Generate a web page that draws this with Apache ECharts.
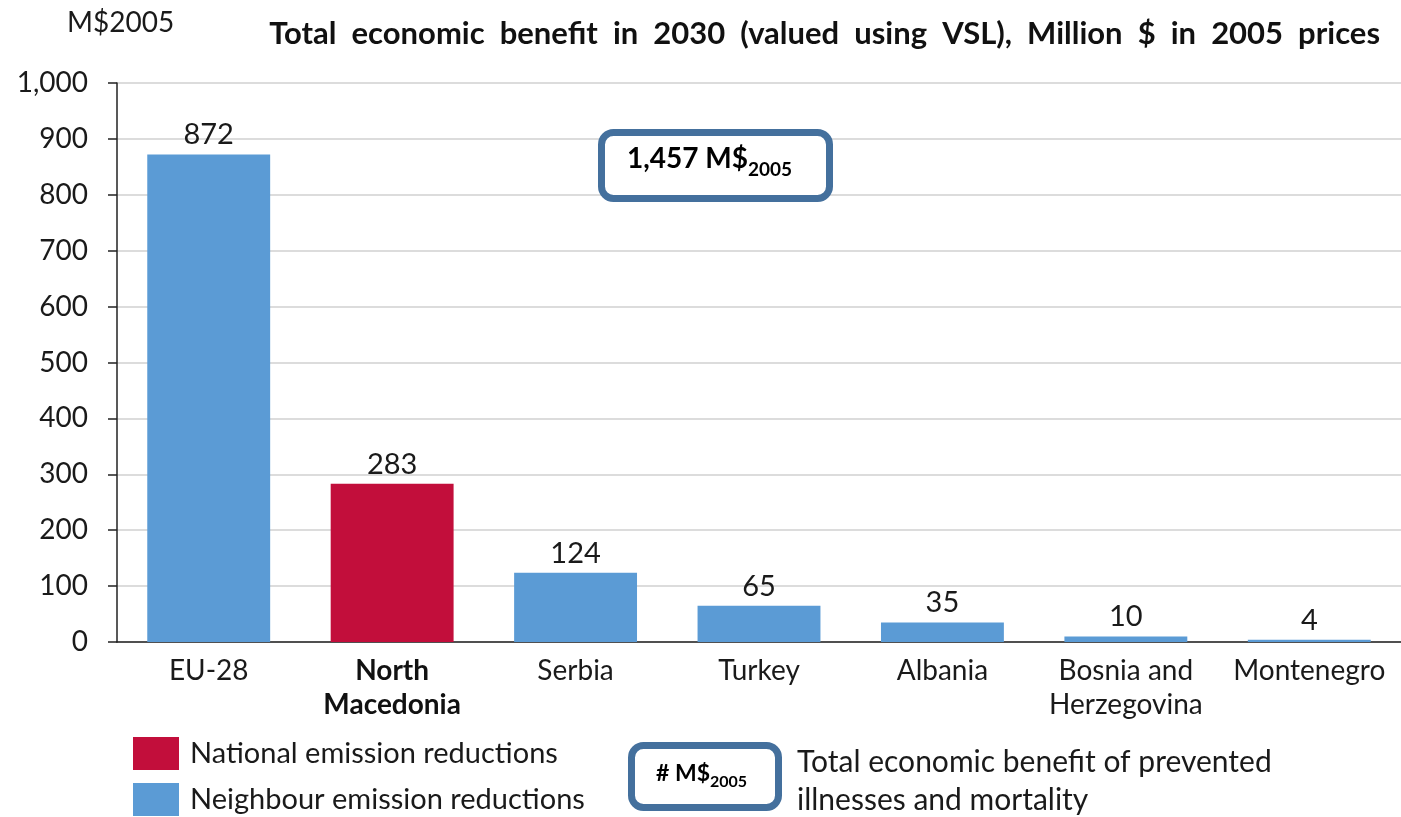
<!DOCTYPE html>
<html>
<head>
<meta charset="utf-8">
<script src="https://cdn.jsdelivr.net/npm/echarts@6/dist/echarts.min.js"></script>
<style>
  html, body { margin: 0; padding: 0; background: #fff; }
  #chart { width: 1401px; height: 817px; }
</style>
</head>
<body>
<div id="chart"></div>
<script>
// Economic benefit in 2030 by source region of emission reductions (M$, 2005 prices)
const categories = ['EU-28', 'North\nMacedonia', 'Serbia', 'Turkey', 'Albania', 'Bosnia and\nHerzegovina', 'Montenegro'];
const nationalValues  = ['-', 283, '-', '-', '-', '-', '-'];
const neighbourValues = [872, '-', 124, 65, 35, 10, 4];
const yTicks = [0, 100, 200, 300, 400, 500, 600, 700, 800, 900, 1000];
const nationalCategory = 'North\nMacedonia';
const totalBenefit = '1,457';

const FONT = 'Lato, "Open Sans", sans-serif';
const BLUE = '#5B9BD5';
const RED = '#C20E3B';
const BOX = '#44709D';
const INK = '#1a1a1a';

const chart = echarts.init(document.getElementById('chart'), null, { renderer: 'canvas' });

const labelStyle = {
  show: true,
  position: 'top',
  distance: 5,
  fontFamily: FONT,
  fontSize: 29,
  color: INK,
  formatter: p => p.value
};

chart.setOption({
  animation: false,
  backgroundColor: '#fff',
  title: [
    {
      text: 'Total  economic  benefit  in  2030  (valued  using  VSL),  Million  $  in  2005  prices',
      right: 16, top: 13,
      textStyle: { fontFamily: FONT, fontSize: 31, fontWeight: 'bold', color: '#111' }
    },
    {
      text: 'M$2005',
      left: 62, top: 4,
      textStyle: { fontFamily: FONT, fontSize: 28, fontWeight: 'normal', color: INK }
    }
  ],
  legend: {
    left: 133, top: 737,
    orient: 'vertical',
    padding: 0,
    itemWidth: 46, itemHeight: 33, itemGap: 13,
    icon: 'rect',
    selectedMode: false,
    textStyle: { fontFamily: FONT, fontSize: 29, color: INK, padding: [0, 0, 0, 6] },
    data: ['National emission reductions', 'Neighbour emission reductions']
  },
  // the plot area runs slightly past the right edge of the canvas
  grid: { left: 117, right: -4, top: 83, bottom: 175, containLabel: false },
  xAxis: {
    type: 'category',
    data: categories,
    axisLine: { show: true, lineStyle: { color: '#222', width: 1.5 } },
    axisTick: { show: false },
    axisLabel: {
      margin: 12,
      interval: 0,
      fontFamily: FONT, fontSize: 28, color: INK, lineHeight: 34,
      formatter: v => v === nationalCategory
        ? v.split('\n').map(l => '{bold|' + l + '}').join('\n')
        : v,
      rich: { bold: { fontFamily: FONT, fontSize: 28, fontWeight: 'bold', color: '#111', lineHeight: 34 } }
    }
  },
  yAxis: {
    type: 'value',
    min: yTicks[0], max: yTicks[yTicks.length - 1], interval: 100,
    axisLine: { show: true, lineStyle: { color: '#222', width: 1.5 } },
    axisTick: { show: true, length: 9, lineStyle: { color: '#222', width: 1.5 } },
    splitLine: { show: true, lineStyle: { color: '#D0D0D0', width: 1.5 } },
    axisLabel: {
      margin: 29,
      fontFamily: FONT, fontSize: 28, color: INK,
      formatter: v => v.toLocaleString('en-US')
    }
  },
  series: [
    {
      name: 'National emission reductions',
      type: 'bar', stack: 'benefit',
      barWidth: '67%',
      data: nationalValues,
      itemStyle: { color: RED },
      label: labelStyle
    },
    {
      name: 'Neighbour emission reductions',
      type: 'bar', stack: 'benefit',
      barWidth: '67%',
      data: neighbourValues,
      itemStyle: { color: BLUE },
      label: labelStyle
    }
  ],
  graphic: [
    // total benefit callout
    {
      type: 'rect', left: 598, top: 129,
      shape: { width: 228, height: 66, r: 12 },
      style: { fill: '#fff', stroke: BOX, lineWidth: 7 },
      z: 10
    },
    {
      type: 'text', left: 627, top: 145,
      style: {
        text: '{b|' + totalBenefit + ' M$}{s|2005}',
        rich: {
          b: { fontFamily: FONT, fontSize: 28, fontWeight: 'bold', color: '#111', lineHeight: 34, verticalAlign: 'bottom' },
          s: { fontFamily: FONT, fontSize: 19, fontWeight: 'bold', color: '#111', lineHeight: 34, verticalAlign: 'bottom', padding: [0, 0, -6, 0] }
        }
      },
      z: 11
    },
    // legend callout
    {
      type: 'rect', left: 628, top: 742,
      shape: { width: 147, height: 62, r: 12 },
      style: { fill: '#fff', stroke: BOX, lineWidth: 7 },
      z: 10
    },
    {
      type: 'text', left: 656, top: 762,
      style: {
        text: '{b|# M$}{s|2005}',
        rich: {
          b: { fontFamily: FONT, fontSize: 23, fontWeight: 'bold', color: '#111', lineHeight: 28, verticalAlign: 'bottom' },
          s: { fontFamily: FONT, fontSize: 16, fontWeight: 'bold', color: '#111', lineHeight: 28, verticalAlign: 'bottom', padding: [0, 0, -5, 0] }
        }
      },
      z: 11
    },
    {
      type: 'text', left: 797, top: 743,
      style: {
        text: 'Total economic benefit of prevented\nillnesses and mortality',
        fontFamily: FONT, fontSize: 30, lineHeight: 38, fill: INK
      },
      z: 11
    }
  ]
});
</script>
</body>
</html>
